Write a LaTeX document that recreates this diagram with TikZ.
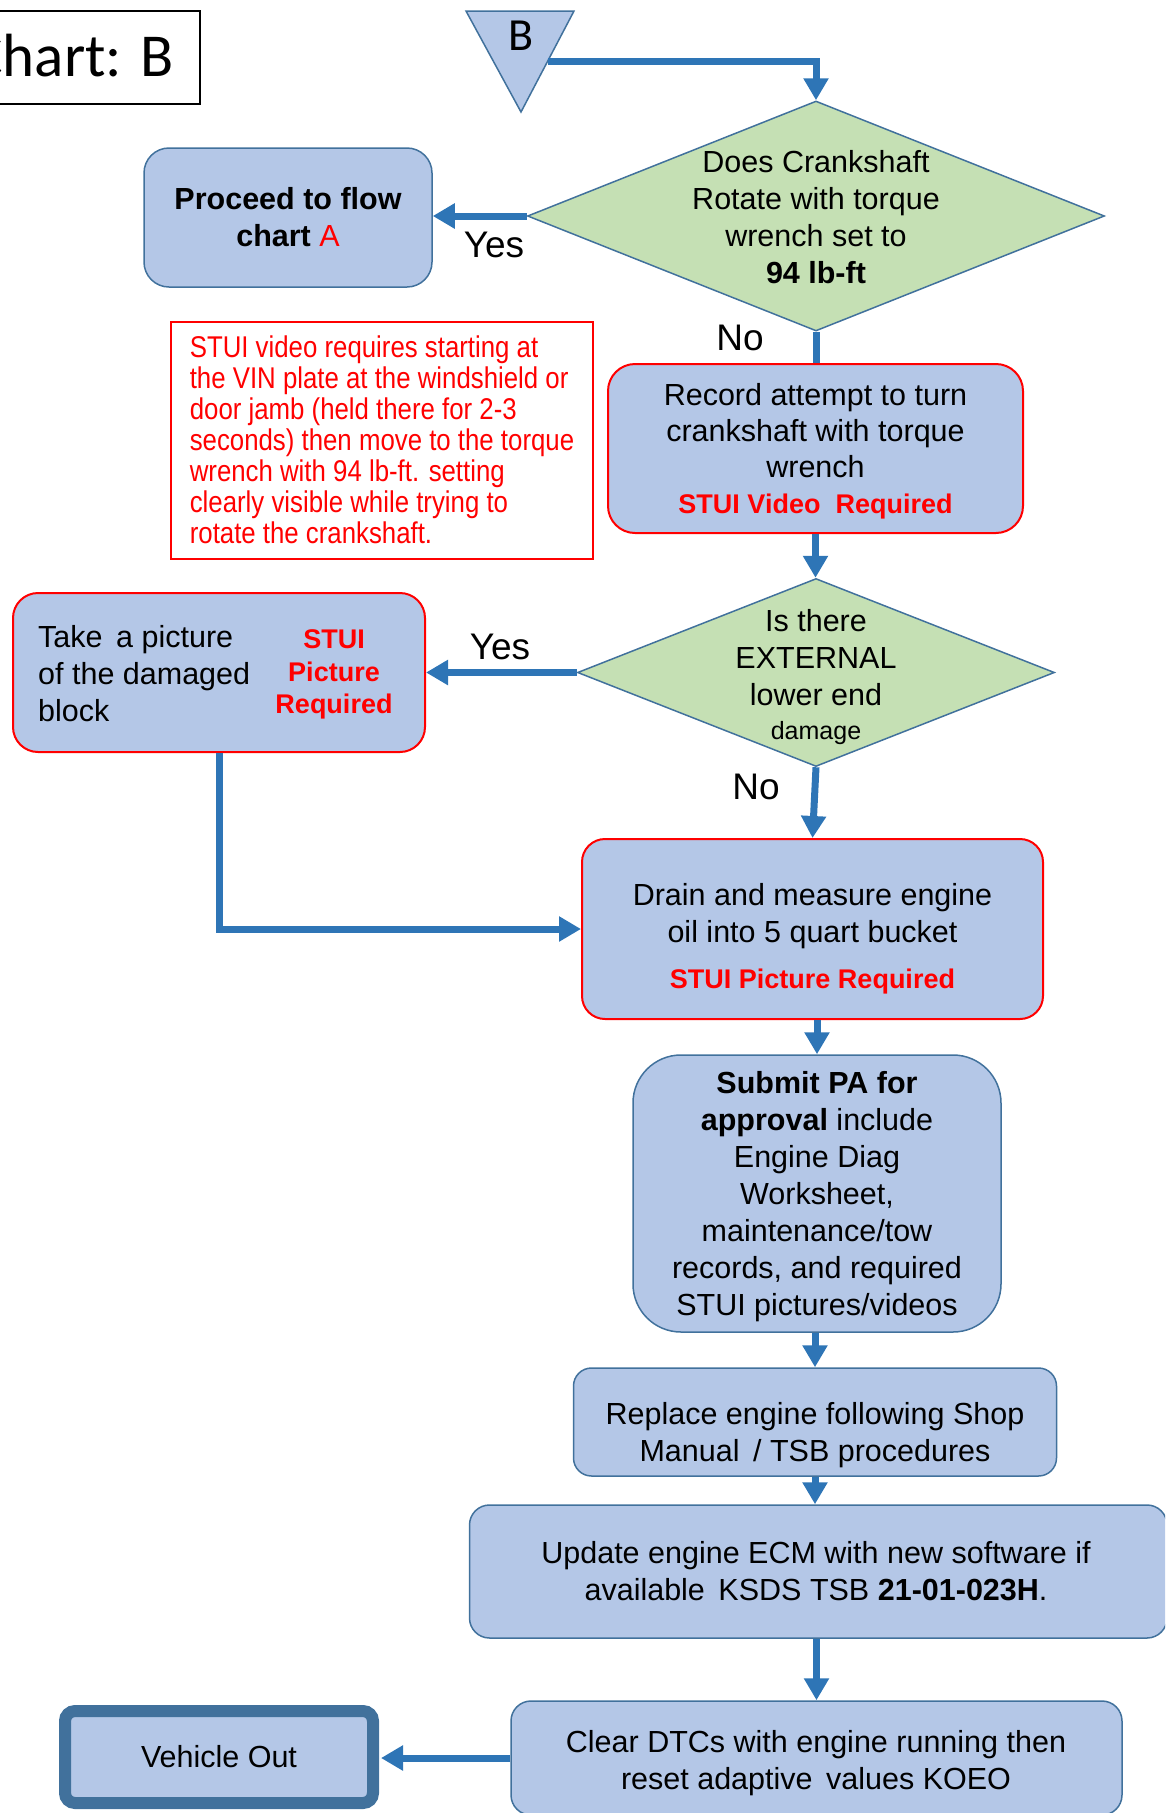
\documentclass[tikz,border=0pt]{standalone}
\usepackage{fontspec}
\setmainfont{Liberation Sans}
\newfontfamily\narrowfam[FakeStretch=0.86]{Liberation Sans}
\newfontfamily\calfam{Carlito}
\usetikzlibrary{arrows.meta,shapes.geometric,calc}
\definecolor{arrowblue}{HTML}{2E75B6}
\definecolor{boxfill}{HTML}{B4C7E7}
\definecolor{boxline}{HTML}{41719C}
\definecolor{dfill}{HTML}{C5E0B4}
\definecolor{rd}{HTML}{FF0000}
\newcommand\msz{\fontsize{30.5}{37}\selectfont}
\newcommand\rbsz{\fontsize{27}{33}\selectfont\bfseries\color{rd}}
\newcommand\lblsz{\fontsize{37}{44}\selectfont}
\tikzset{
  conn/.style={draw=arrowblue, line width=7pt, -{Triangle[length=22pt,width=24pt]}},
  plainconn/.style={draw=arrowblue, line width=7pt},
  bluebox/.style={rectangle, rounded corners=#1, fill=boxfill, draw=boxline, line width=1.5pt, inner sep=0pt, align=center, font=\msz},
  bluebox/.default=20pt,
  redbox/.style={rectangle, rounded corners=#1, fill=boxfill, draw=rd, line width=2pt, inner sep=0pt, align=center, font=\msz},
  redbox/.default=25pt,
  decision/.style={diamond, fill=dfill, draw=boxline, line width=1.5pt, inner sep=0pt},
  txt/.style={align=center, font=\msz, inner sep=0pt},
  lbl/.style={font=\lblsz, anchor=base, inner sep=0pt}
}
\begin{document}
\begin{tikzpicture}[x=1pt,y=-1pt]
\useasboundingbox (0,0) rectangle (1165,1813);
\clip (0,0) rectangle (1165,1813);

% title box
\node (chart) [draw=black, line width=2pt, minimum width=230pt, minimum height=93pt, inner sep=0pt] at (85,57.5) {};
\node (charttxt) [anchor=base east, font=\calfam\fontsize{61}{70}\selectfont, inner sep=0pt] at (174,76) {Chart: B};

% off-page connector B
\path[fill=boxfill, draw=boxline, line width=1.5pt] (466,11) -- (574,11) -- (521,112) -- cycle;
\coordinate (bout) at (548,61);
\node (blbl) [font=\calfam\fontsize{46}{50}\selectfont, anchor=base, inner sep=0pt] at (521,50) {B};

% decision 1
\node (d1) [decision, minimum width=577pt, minimum height=230pt] at (816,216) {};
\node (d1t) [txt] at (816,217.5) {Does Crankshaft\\Rotate with torque\\wrench set to\\\textbf{94 lb-ft}};

% proceed box
\node (proceed) [bluebox=25pt, minimum width=288pt, minimum height=139pt, font=\msz\bfseries] at (288,217.5) {Proceed to flow\\chart {\mdseries\color{rd}A}};

% note
\node (note) [draw=rd, line width=2pt, minimum width=422pt, minimum height=237pt, align=left, inner sep=0pt, text=rd, font=\narrowfam\fontsize{30}{31}\selectfont] at (382,440) {STUI video requires starting at\\the VIN plate at the windshield or\\door jamb (held there for 2-3\\seconds) then move to the torque\\wrench with 94 lb-ft. setting\\clearly visible while trying to\\rotate the crankshaft.};

% record box
\node (record) [redbox=27pt, minimum width=415pt, minimum height=169pt] at (815.5,448.5) {};
\node (recordt) [txt, font=\fontsize{30.5}{36}\selectfont] at (815.5,451) {Record attempt to turn\\crankshaft with torque\\wrench\\{\rbsz STUI Video\ \ Required}};

% decision 2
\node (d2) [decision, minimum width=477pt, minimum height=188pt] at (816,672.5) {};
\node (d2t) [txt] at (816,677.5) {Is there\\EXTERNAL\\lower end\\[-3pt]{\fontsize{25}{30}\selectfont damage}};

% take picture box
\node (pic) [redbox=25pt, minimum width=412pt, minimum height=159pt] at (219,672.5) {};
\node (pict) [anchor=west, align=left, font=\msz, inner sep=0pt] at (38,674) {Take \,a picture\\of the damaged\\block};
\node (picr) [align=center, font=\fontsize{27}{32.5}\selectfont\bfseries, text=rd, inner sep=0pt] at (334,674.4) {STUI\\Picture\\Required};

% drain box
\node (drain) [redbox=23pt, minimum width=461pt, minimum height=180pt] at (812.5,929) {};
\node (draint) [txt] at (812.5,939) {Drain and measure engine\\oil into 5 quart bucket\\[9pt]{\rbsz STUI Picture Required}};

% submit box
\node (submit) [bluebox=48pt, minimum width=368pt, minimum height=277pt] at (817,1193.5) {};
\node (submitt) [txt] at (817,1197) {\textbf{Submit PA for}\\\textbf{approval} include\\Engine Diag\\Worksheet,\\maintenance/tow\\records, and required\\STUI pictures/videos};

% replace box
\node (replace) [bluebox=18pt, minimum width=483pt, minimum height=108pt] at (815,1422) {};
\node (replacet) [txt] at (815,1435) {Replace engine following Shop\\Manual \,/ TSB procedures};

% update box
\node (update) [bluebox=20pt, minimum width=697.5pt, minimum height=133pt] at (818.25,1571.5) {};
\node (updatet) [txt] at (816,1571.5) {Update engine ECM with new software if\\available \,KSDS TSB \textbf{21-01-023H}.};

% clear box
\node (clear) [bluebox=20pt, minimum width=611pt, minimum height=114pt] at (816.5,1758) {};
\node (cleart) [txt] at (816,1763) {Clear DTCs with engine running then\\reset adaptive \,values KOEO};

% vehicle out
\node (vout) [rectangle, rounded corners=10pt, fill=boxfill, draw=boxline, line width=12pt, minimum width=308pt, minimum height=92pt, inner sep=0pt, font=\msz] at (219,1757) {Vehicle Out};

% connectors
\draw[conn] (bout) -| (d1.north);
\draw[conn] (d1.west) -- (d1.west -| proceed.east);
\draw[plainconn] (d1.south) -- (d1.south |- record.north);
\draw[conn] (record.south) -- (record.south |- d2.north);
\draw[conn] (d2.west) -- (d2.west -| pic.east);
\draw[conn] (d2.south) -- (drain.north);
\draw[conn] (pic.south) |- (drain.west);
\draw[conn] (submit.north |- drain.south) -- (submit.north);
\draw[conn] (replace.north |- submit.south) -- (replace.north);
\draw[conn] (replace.south) -- (replace.south |- update.north);
\draw[conn] (clear.north |- update.south) -- (clear.north);
\draw[conn, shorten >=2pt] (clear.west) -- (clear.west -| vout.east);

% labels
\node (yes1) [lbl] at (494,257) {Yes};
\node (no1) [lbl] at (740,350) {No};
\node (yes2) [lbl] at (500,659) {Yes};
\node (no2) [lbl] at (756,799) {No};
\end{tikzpicture}
\end{document}
